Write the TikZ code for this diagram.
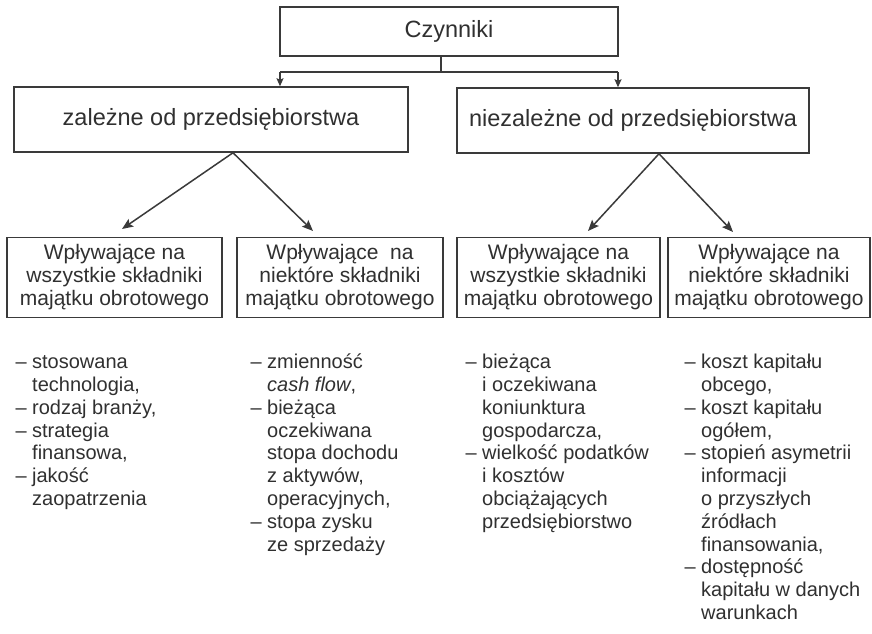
\documentclass[tikz,border=0pt]{standalone}
\usepackage{fontspec}
\setmainfont{Liberation Sans}
\usetikzlibrary{arrows.meta}
\definecolor{ink}{HTML}{3A3A3A}
\definecolor{txt}{HTML}{303030}
\begin{document}
\begin{tikzpicture}[x=1pt,y=-1pt,
  frame/.style={draw=ink, line width=1.5pt, inner sep=0pt, text=txt, align=center},
  topfont/.style={font=\fontsize{23.5}{28}\selectfont},
  boxfont/.style={font=\fontsize{21}{23}\selectfont},
  listtxt/.style={anchor=north west, inner sep=0pt, align=left, text=txt, font=\fontsize{20}{22.8}\selectfont},
  conn/.style={draw=ink, line width=1.5pt},
  arrsmall/.style={conn, -{Stealth[length=8pt,width=7pt,inset=1.5pt]}},
  arrbig/.style={conn, -{Stealth[length=11pt,width=9pt,inset=2pt]}}
]
\useasboundingbox (0,0) rectangle (872,633);
\fill[white] (0,0) rectangle (872,633);

% boxes
\node[frame, topfont, minimum width=338pt, minimum height=49pt] (C) at (449,31.5) {Czynniki};
\node[frame, topfont, minimum width=394pt, minimum height=65pt] (L) at (211,119.5) {zależne od przedsiębiorstwa};
\node[frame, topfont, minimum width=352pt, minimum height=65pt] (R) at (633,120.5) {niezależne od przedsiębiorstwa};

\node[frame, boxfont, minimum width=215pt, minimum height=80pt] (B1) at (114.5,277.5) {Wpływające na\\wszystkie składniki\\majątku obrotowego};
\node[frame, boxfont, minimum width=206pt, minimum height=80pt] (B2) at (340,277.5) {Wpływające\ \ na\\niektóre składniki\\majątku obrotowego};
\node[frame, boxfont, minimum width=203pt, minimum height=80pt] (B3) at (558.5,277.5) {Wpływające na\\wszystkie składniki\\majątku obrotowego};
\node[frame, boxfont, minimum width=202pt, minimum height=80pt] (B4) at (769,277.5) {Wpływające na\\niektóre składniki\\majątku obrotowego};

% top connectors
\coordinate (j) at (441,72);
\coordinate (aL) at (280,72);
\coordinate (aR) at (618,72);
\draw[conn] (C.south -| j) -- (j);
\draw[conn] (aL) -- (aR);
\draw[arrsmall] (aL) -- (aL |- L.north);
\draw[arrsmall] (aR) -- (aR |- R.north);

% second level connectors
\coordinate (lp) at ([xshift=22pt]L.south);
\coordinate (rp) at ([xshift=26pt]R.south);
\coordinate (t1) at (122,229);
\coordinate (t2) at (313,231);
\coordinate (t3) at (588,231);
\coordinate (t4) at (733,232);
\draw[arrbig] (lp) -- (t1);
\draw[arrbig] (lp) -- (t2);
\draw[arrbig] (rp) -- (t3);
\draw[arrbig] (rp) -- (t4);

% lists
\node[listtxt] (l1) at (32,352.5) {\strut\llap{– }stosowana\\technologia,\\\llap{– }rodzaj branży,\\\llap{– }strategia\\finansowa,\\\llap{– }jakość\\zaopatrzenia};
\node[listtxt] (l2) at (267,352.5) {\strut\llap{– }zmienność\\\textit{cash flow},\\\llap{– }bieżąca\\oczekiwana\\stopa dochodu\\z aktywów,\\operacyjnych,\\\llap{– }stopa zysku\\ze sprzedaży};
\node[listtxt] (l3) at (482,352.5) {\strut\llap{– }bieżąca\\i oczekiwana\\koniunktura\\gospodarcza,\\\llap{– }wielkość podatków\\i kosztów\\obciążających\\przedsiębiorstwo};
\node[listtxt] (l4) at (701,352.5) {\strut\llap{– }koszt kapitału\\obcego,\\\llap{– }koszt kapitału\\ogółem,\\\llap{– }stopień asymetrii\\informacji\\o przyszłych\\źródłach\\finansowania,\\\llap{– }dostępność\\kapitału w danych\\warunkach};
\end{tikzpicture}
\end{document}
